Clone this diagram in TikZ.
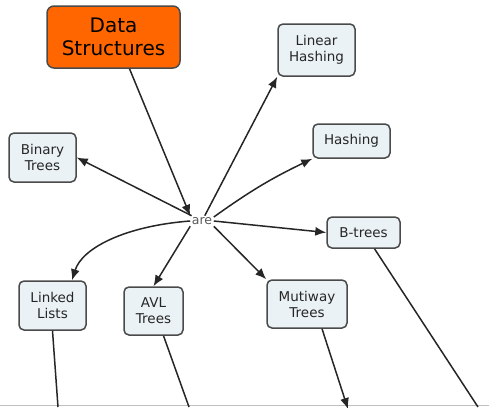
\documentclass[tikz,border=0pt]{standalone}
\usepackage{fontspec}
\setmainfont{DejaVu Sans}
\usetikzlibrary{arrows.meta}
\definecolor{boxfill}{HTML}{EBF2F5}
\definecolor{boxline}{HTML}{4A4A4A}
\definecolor{dsorange}{HTML}{FF6600}
\tikzset{
  concept/.style={draw=boxline, line width=1.5pt, fill=boxfill, rounded corners=5pt,
    align=center, inner sep=2pt, font=\fontsize{13.5}{16}\selectfont, text=black!85},
  link/.style={line width=1.5pt, draw=black!85, -{Latex[length=11pt,width=9pt]}},
  plain/.style={line width=1.5pt, draw=black!85},
}
\begin{document}
\begin{tikzpicture}[x=1pt,y=-1pt]
\useasboundingbox (0,0) rectangle (489,407);
\draw[gray!50, line width=1pt] (0,405.5) -- (489,405.5);
\node[concept, fill=dsorange, minimum width=133pt, minimum height=62pt, rounded corners=7pt,
  font=\fontsize{20}{23}\selectfont, text=black] (ds) at (113.5,37) {Data\\Structures};
\node[concept, minimum width=77pt, minimum height=52pt] (lh) at (316.5,50) {Linear\\Hashing};
\node[concept, minimum width=77pt, minimum height=34pt] (h) at (351.5,141) {Hashing};
\node[concept, minimum width=67pt, minimum height=49pt] (bt) at (42.5,157.5) {Binary\\Trees};
\node[concept, minimum width=73pt, minimum height=31pt] (bb) at (363.5,232.5) {B-trees};
\node[concept, minimum width=67pt, minimum height=49pt] (ll) at (52.5,305.5) {Linked\\Lists};
\node[concept, minimum width=59pt, minimum height=48pt] (avl) at (153.5,311) {AVL\\Trees};
\node[concept, minimum width=80pt, minimum height=48pt] (mt) at (307,304) {Mutiway\\Trees};
\node[inner sep=1.5pt, text=black!65, font=\fontsize{12.5}{14}\selectfont] (are) at (202,221) {are};
\coordinate (e1) at (58,407);
\coordinate (e2) at (189,407);
\coordinate (e3) at (348,409);
\coordinate (e4) at (478,407);
\draw[link] (ds.south) ++(16,0) coordinate (dsout) -- (are.north west);
\draw[link] (are) -- (lh.south west);
\draw[link] (are.east) ++(0,-4) to[bend left=5] (h.south west);
\draw[link] (are) -- (bt.east);
\draw[link] (are.east) -- (bb.west);
\draw[link] (are.west) .. controls (125,226) and (82,248) .. (ll.north east -| 72,0);
\draw[link] (are.south west) -- (avl.north);
\draw[link] (are.south east) -- (mt.north west);
\draw[plain] (ll.south) -- (e1);
\draw[plain] (avl.south) ++(10,0) -- (e2);
\draw[link] (mt.south) ++(15,0) -- (e3);
\draw[plain] (bb.south) ++(11,0) -- (e4);
\end{tikzpicture}
\end{document}
